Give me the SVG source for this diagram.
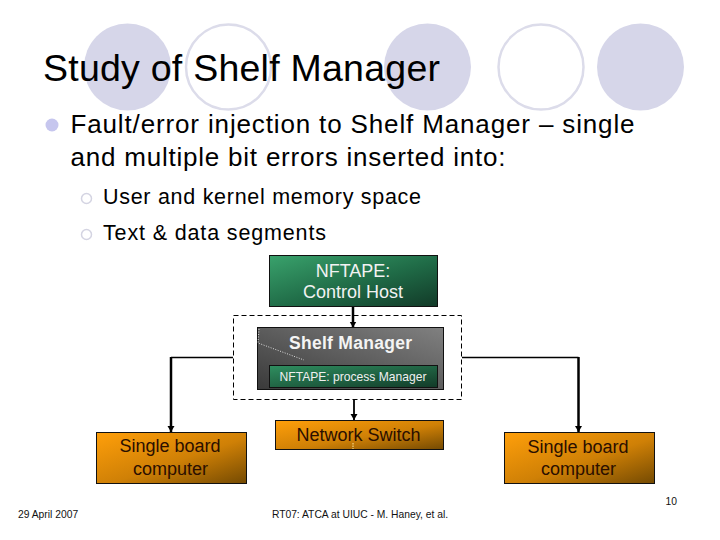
<svg xmlns="http://www.w3.org/2000/svg" width="720" height="540" viewBox="0 0 720 540">
<style>
.s{font-family:"Liberation Sans",Arial,sans-serif}
.deco{fill:#d6d6e9}
.ring{fill:#fff;stroke:#dcdcea;stroke-width:2.5}
.box{stroke:#111;stroke-width:1}
.lbl{font-size:18px;text-anchor:middle}
.dark{fill:#2b0f00}
.light{fill:#f2f2f2}
.c{fill:none;stroke:#000}
</style>
<defs>
<linearGradient id="green" x1="0" y1="0" x2="1" y2="1"><stop offset="0" stop-color="#39a26c"/><stop offset="0.55" stop-color="#1f6a46"/><stop offset="1" stop-color="#123a28"/></linearGradient>
<linearGradient id="green2" x1="0" y1="0" x2="1" y2="1"><stop offset="0" stop-color="#2f8f60"/><stop offset="1" stop-color="#123a28"/></linearGradient>
<linearGradient id="grey" x1="1" y1="0" x2="0" y2="1"><stop offset="0" stop-color="#808080"/><stop offset="1" stop-color="#3a3a3a"/></linearGradient>
<linearGradient id="orange" x1="0" y1="0" x2="1" y2="1"><stop offset="0" stop-color="#ff9f0a"/><stop offset="0.55" stop-color="#cf8006"/><stop offset="1" stop-color="#744a02"/></linearGradient>
<marker id="arr" markerUnits="userSpaceOnUse" markerWidth="8" markerHeight="8" refX="6" refY="4" orient="auto"><path d="M0 0.500L6 4L0 7.500Z" fill="#000"/></marker>
</defs>
<rect width="720" height="540" fill="#fff"/>
<g id="decor">
<circle class="deco" cx="127.500" cy="67" r="43.500"/>
<circle class="ring" cx="228.500" cy="67" r="42.500"/>
<circle class="deco" cx="427.500" cy="67" r="43.500"/>
<circle class="ring" cx="541" cy="67" r="42.500"/>
<circle class="deco" cx="640.500" cy="67" r="43.500"/>
</g>
<g id="slide-text" class="s">
<text x="43" y="81" font-size="37.500" fill="#000" textLength="397" lengthAdjust="spacing">Study of Shelf Manager</text>
<circle cx="52" cy="125" r="6.500" fill="#c6c6ee"/>
<text x="70.500" y="132.500" font-size="26" fill="#000" textLength="564" lengthAdjust="spacing">Fault/error injection to Shelf Manager – single</text>
<text x="70.500" y="165.500" font-size="26" fill="#000" textLength="435" lengthAdjust="spacing">and multiple bit errors inserted into:</text>
<circle cx="86.500" cy="198.500" r="5" fill="#fff" stroke="#d4d4e2" stroke-width="1.500"/>
<text x="103" y="204" font-size="21.500" fill="#000" textLength="318" lengthAdjust="spacing">User and kernel memory space</text>
<circle cx="86.500" cy="234.500" r="5" fill="#fff" stroke="#d4d4e2" stroke-width="1.500"/>
<text x="103" y="240" font-size="21.500" fill="#000" textLength="223" lengthAdjust="spacing">Text &amp; data segments</text>
</g>
<g id="connectors">
<path class="c" stroke-width="1.500" d="M233 357.500H171"/>
<path class="c" stroke-width="2.500" d="M171 357V432" marker-end="url(#arr)"/>
<path class="c" stroke-width="1.500" d="M462 357.500H578.500"/>
<path class="c" stroke-width="2.500" d="M578.500 357V432" marker-end="url(#arr)"/>
<path class="c" stroke-width="2.500" d="M353 307V327.500" marker-end="url(#arr)"/>
<path class="c" stroke-width="1.800" d="M354 399.500V420" marker-end="url(#arr)"/>
</g>
<g id="shelf-group"><rect x="233.500" y="315.500" width="228" height="84" fill="none" stroke="#000" stroke-width="1" stroke-dasharray="5 3"/></g>
<g id="control-host" class="s">
<rect class="box" x="269.500" y="255.500" width="168" height="51" fill="url(#green)"/>
<text class="lbl light" x="353" y="277">NFTAPE:</text>
<text class="lbl light" x="353" y="298">Control Host</text>
</g>
<g id="shelf-manager" class="s">
<rect class="box" x="257.500" y="327.500" width="186" height="62" fill="url(#grey)"/>
<path d="M259 329L258 343L304 360" fill="none" stroke="#fff" stroke-width="0.800" stroke-dasharray="1 1.500"/>
<text x="350.500" y="349" font-size="17.500" font-weight="bold" text-anchor="middle" fill="#f4f4f4" textLength="123" lengthAdjust="spacing">Shelf Manager</text>
</g>
<g id="process-manager" class="s">
<rect class="box" x="269.500" y="365.500" width="168" height="22" fill="url(#green2)"/>
<text x="353" y="381" font-size="12.100" text-anchor="middle" fill="#f0f0f0">NFTAPE: process Manager</text>
</g>
<g id="sbc-left" class="s">
<rect class="box" x="96.500" y="432.500" width="150" height="51" fill="url(#orange)"/>
<text class="lbl dark" x="170" y="452">Single board</text>
<text class="lbl dark" x="170.500" y="475">computer</text>
</g>
<g id="network-switch" class="s">
<rect class="box" x="275.500" y="420.500" width="168" height="29" fill="url(#orange)"/>
<text class="lbl dark" x="358.500" y="441">Network Switch</text>
<path d="M353 443V449" stroke="#ffe9a0" stroke-width="1" stroke-dasharray="1.500 1"/>
</g>
<g id="sbc-right" class="s">
<rect class="box" x="504.500" y="432.500" width="150" height="51" fill="url(#orange)"/>
<text class="lbl dark" x="578" y="453">Single board</text>
<text class="lbl dark" x="578.500" y="475">computer</text>
</g>
<g id="footer" class="s" font-size="10.300" fill="#111">
<text x="18" y="518">29 April 2007</text>
<text x="360" y="518" text-anchor="middle">RT07: ATCA at UIUC - M. Haney, et al.</text>
<text x="677" y="505" text-anchor="end">10</text>
</g>
</svg>
